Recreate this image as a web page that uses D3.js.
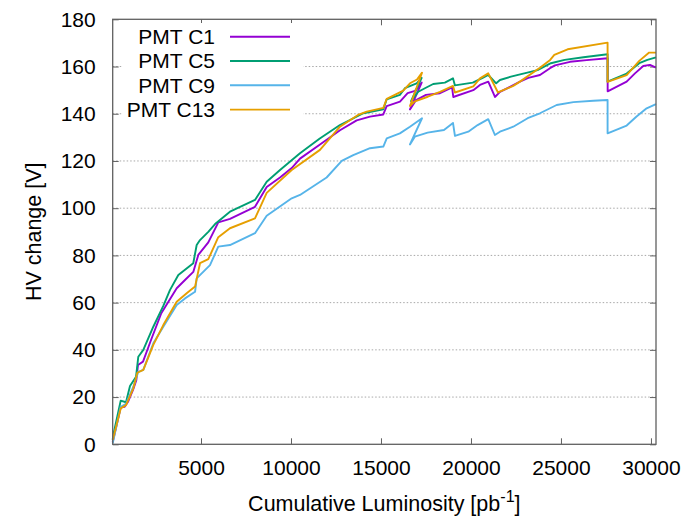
<!DOCTYPE html>
<html>
<head>
<meta charset="utf-8">
<script src="https://cdn.jsdelivr.net/npm/d3@7/dist/d3.min.js"></script>
<style>
  html, body { margin: 0; padding: 0; background: #fff; }
  svg { display: block; font-family: "Liberation Sans", Arial, sans-serif; }
</style>
</head>
<body>
<div id="chart"></div>
<script>
// ---- data ----
const seriesNames = ["PMT C1", "PMT C5", "PMT C9", "PMT C13"];
const seriesColors = ["#9400d3", "#009e73", "#56b4e9", "#e69f00"];

const c1 = [[94,1],[539,15.7],[761,15.9],[944,18],[1222,23],[1406,27.2],[1500,33.6],[1778,35],[2239,44.5],[2794,55.5],[3650,66.1],[4111,69.6],[4572,73],[4850,80.2],[5406,85.5],[5961,94],[6611,95.5],[8000,100.6],[8650,109],[9389,113],[10039,117],[10500,121],[11611,127],[12722,133],[13650,137.2],[14389,138.8],[15128,139.7],[15317,143.2],[16056,145.1],[16480,148.7],[16889,149.7],[17261,153.2],[16611,141.8],[16950,145.8],[17500,148],[18278,148.7],[18950,151.2],[19017,147.1],[20128,150],[20500,152.2],[20961,153.6],[21333,147.1],[21611,149.3],[22167,151.4],[22722,153.6],[23183,155.2],[23833,156.4],[24389,159.3],[24667,160.5],[25500,162],[26428,162.7],[27594,163.5],[27594,149.5],[28650,153.6],[29111,157.1],[29572,160.2],[29944,160.7],[30280,159.5]];

const c5 = [[94,2],[128,4],[539,18.5],[833,17.8],[1055,24.7],[1390,28.6],[1517,37.1],[1795,40],[2350,49.8],[2905,58.6],[3280,65.4],[3740,71.7],[4570,76.7],[4760,84.4],[4945,86.5],[5405,90],[5780,93.3],[6610,98.5],[8000,103.5],[8650,111.2],[9390,116.2],[10500,123.3],[11600,129.5],[12720,135.2],[14020,140.2],[15130,141.9],[15315,146.1],[16050,148],[16330,150.8],[16980,152.9],[17260,155.2],[16670,145.3],[17070,149.3],[17440,150.8],[17900,152.6],[18550,153.2],[19000,155],[19110,152],[20100,153.2],[20650,155.2],[20960,156.4],[21400,152.9],[21610,154.3],[22220,155.7],[22960,157.1],[23700,158.5],[24440,161.4],[25200,162.8],[26250,163.9],[27590,165.2],[27590,153.6],[28650,157],[29350,161.4],[29800,162.8],[30280,163.9]];

const c9 = [[94,0.4],[539,15.9],[833,17.1],[1240,24.4],[1517,30.7],[1795,31.5],[2350,42.8],[2905,49.8],[3650,59],[4111,61.8],[4670,64.6],[4760,70.3],[5500,75.9],[5960,83.7],[6610,84.4],[8000,89.4],[8650,96.8],[10040,104.2],[10500,105.6],[11980,113],[12820,120],[13460,122.5],[14390,125.4],[15130,126.1],[15320,129.6],[16050,131.7],[16610,134.5],[17280,138.1],[16610,127],[16880,130.3],[17590,132],[18500,133.1],[19000,136.1],[19110,130.6],[19850,132.4],[20370,135.2],[20960,137.7],[21330,131],[21610,132.4],[22350,134.5],[23150,138.1],[23830,140.2],[24760,143.7],[25690,144.9],[26800,145.5],[27590,145.8],[27590,131.7],[28650,135],[29200,138.8],[29760,142.3],[30280,144.1]];

const c13 = [[94,1.8],[539,15.2],[833,16.6],[1240,23.7],[1462,30.3],[1795,31.5],[2350,42.1],[2905,50.5],[3650,60.4],[4205,64],[4670,66.8],[4945,76.7],[5405,78.4],[5960,87.7],[6610,91.5],[8000,95.7],[8650,106.5],[10040,116.2],[11610,124.7],[12720,134.5],[13720,139.5],[14210,140.9],[15130,142.5],[15320,146.3],[16240,149.8],[16610,152.9],[17000,154.5],[17280,157.4],[16610,143.3],[16850,145.1],[17600,147.2],[18280,149.3],[19000,151.8],[19110,149],[20130,151.6],[20500,155],[20960,157.1],[21500,149],[22350,151.8],[22720,153.6],[23830,159.5],[24400,162.8],[24630,164.9],[25370,167.3],[27590,170.1],[27590,153.5],[28650,156.4],[29350,162.4],[29900,165.9],[30280,165.9]];

const xTicks = [5000, 10000, 15000, 20000, 25000, 30000];
const yTicks = [0, 20, 40, 60, 80, 100, 120, 140, 160, 180];
const xDomain = [94, 30280];
const yDomain = [0, 180];
const xTitle = "Cumulative Luminosity [pb";
const xTitleSup = "-1";
const yTitle = "HV change [V]";

// ---- layout ----
const W = 687, H = 519;
const L = 112.7, R = 656, T = 19.3, B = 444.3;
const FONT = 21;
const TFONT = 21.5;

const svg = d3.select("#chart").append("svg").attr("width", W).attr("height", H);

const x = d3.scaleLinear().domain(xDomain).range([L, R]);
const y = d3.scaleLinear().domain(yDomain).range([B, T]);

// gridlines
svg.append("g").selectAll("line").data(yTicks.filter(v => v > 0 && v < 180)).enter()
  .append("line")
  .attr("x1", L).attr("x2", R)
  .attr("y1", d => y(d)).attr("y2", d => y(d))
  .attr("stroke", "#a8a8a8").attr("stroke-width", 1)
  .attr("stroke-dasharray", "1.5,2");

// axes (ticks inward, mirrored)
const tickLen = 6;
const axColor = "#606060";
const axB = d3.axisBottom(x).tickValues(xTicks).tickSize(-tickLen).tickPadding(16).tickFormat(d3.format("d"));
const axT = d3.axisTop(x).tickValues(xTicks).tickSize(-tickLen).tickFormat("");
const axL = d3.axisLeft(y).tickValues(yTicks).tickSize(-tickLen).tickPadding(17).tickFormat(d3.format("d"));
const axR = d3.axisRight(y).tickValues(yTicks).tickSize(-tickLen).tickFormat("");

function styleAxis(g) {
  g.select(".domain").remove();
  g.selectAll(".tick line").attr("stroke", axColor).attr("stroke-width", 1);
  g.selectAll(".tick text").attr("fill", "#000").attr("font-size", FONT)
    .attr("font-family", "'Liberation Sans', Arial, sans-serif");
}
svg.append("g").attr("transform", `translate(0,${B})`).call(axB).call(styleAxis);
svg.append("g").attr("transform", `translate(0,${T})`).call(axT).call(styleAxis);
svg.append("g").attr("transform", `translate(${L},0)`).call(axL).call(styleAxis);
svg.append("g").attr("transform", `translate(${R},0)`).call(axR).call(styleAxis);

// legend background (opaque key)
const legX = 215, legSampleX1 = 230, legSampleX2 = 290, legY0 = 36.7, legDy = 24.3;
svg.append("rect").attr("x", 123).attr("y", 23).attr("width", 180).attr("height", 97).attr("fill", "#fff");

// lines
const line = d3.line().x(d => x(d[0])).y(d => y(d[1]));
const allSeries = [c1, c5, c9, c13];
svg.append("g").selectAll("path").data(allSeries).enter()
  .append("path")
  .attr("d", d => line(d))
  .attr("fill", "none")
  .attr("stroke", (d, i) => seriesColors[i])
  .attr("stroke-width", 1.9)
  .attr("stroke-linejoin", "round");

// frame
svg.append("rect").attr("x", L).attr("y", T).attr("width", R - L).attr("height", B - T)
  .attr("fill", "none").attr("stroke", axColor).attr("stroke-width", 1.3);

// legend
const leg = svg.append("g");
seriesNames.forEach((n, i) => {
  const yy = legY0 + i * legDy;
  leg.append("text").attr("x", legX).attr("y", yy).attr("dy", "0.35em")
    .attr("text-anchor", "end").attr("font-size", FONT).attr("fill", "#000").text(n);
  leg.append("line").attr("x1", legSampleX1).attr("x2", legSampleX2)
    .attr("y1", yy).attr("y2", yy)
    .attr("stroke", seriesColors[i]).attr("stroke-width", 1.9);
});

// axis titles
const xt = svg.append("text").attr("x", (L + R) / 2).attr("y", 510.5)
  .attr("text-anchor", "middle").attr("font-size", TFONT).attr("fill", "#000");
xt.append("tspan").text(xTitle);
xt.append("tspan").attr("dy", -9).attr("font-size", TFONT * 0.75).text(xTitleSup);
xt.append("tspan").attr("dy", 9).text("]");

svg.append("text").attr("transform", `translate(33,${(T + B) / 2}) rotate(-90)`)
  .attr("text-anchor", "middle").attr("dy", "0.35em").attr("font-size", TFONT).attr("fill", "#000").text(yTitle);
</script>
</body>
</html>
